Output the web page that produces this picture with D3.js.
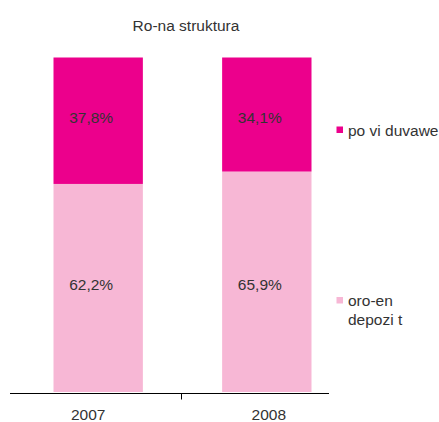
<!DOCTYPE html>
<html>
<head>
<meta charset="utf-8">
<script src="https://cdn.jsdelivr.net/npm/d3@7"></script>
<style>
  body { margin: 0; background: #fff; }
  svg text { font-family: "Liberation Sans", Arial, sans-serif; fill: #333; }
</style>
</head>
<body>
<div id="chart"></div>
<script>
// data
const years = ["2007", "2008"];
const seriesKeys = ["depozit", "pozajmuvanje"];
const depozitValues = [62.2, 65.9];
const pozajmuvanjeValues = [37.8, 34.1];
const seriesLabels = {
  depozit: ["oro-en", "depozi t"],
  pozajmuvanje: ["po vi duvawe"]
};
const seriesColors = {
  depozit: "#f7b7d5",
  pozajmuvanje: "#ec008c"
};
const title = "Ro-na struktura";

const width = 439;
const height = 422;

const rows = years.map((y, i) => ({
  year: y,
  depozit: depozitValues[i],
  pozajmuvanje: pozajmuvanjeValues[i]
}));

const svg = d3.select("#chart")
  .append("svg")
  .attr("width", width)
  .attr("height", height);

const x = d3.scaleBand()
  .domain(years)
  .range([53.5, 311.5])
  .paddingInner(0.47)
  .paddingOuter(0);

const y = d3.scaleLinear()
  .domain([0, 100])
  .range([392, 57.5]);

const stacked = d3.stack().keys(seriesKeys)(rows);

const layer = svg.selectAll("g.layer")
  .data(stacked)
  .enter()
  .append("g")
  .attr("class", "layer")
  .attr("fill", d => seriesColors[d.key]);

layer.selectAll("rect")
  .data(d => d)
  .enter()
  .append("rect")
  .attr("x", d => x(d.data.year))
  .attr("y", d => y(d[1]))
  .attr("width", x.bandwidth())
  .attr("height", d => y(d[0]) - y(d[1]));

// value labels: one row per series (mean of segment middles), a bit left of bar centre
layer.selectAll("text")
  .data(d => {
    const rowY = d3.mean(d, p => (y(p[0]) + y(p[1])) / 2);
    return d.map(p => ({ p, key: d.key, rowY }));
  })
  .enter()
  .append("text")
  .attr("x", d => x(d.p.data.year) + x.bandwidth() / 2 - 7)
  .attr("y", d => d.rowY)
  .attr("dy", "0.35em")
  .attr("text-anchor", "middle")
  .style("font-size", "15.5px")
  .text(d => d3.format(".1f")(d.p.data[d.key]).replace(".", ",") + "%");

// category axis
const axis = svg.append("g");
axis.append("line")
  .attr("x1", 10).attr("x2", 329)
  .attr("y1", 393.5).attr("y2", 393.5)
  .attr("stroke", "#000").attr("stroke-width", 1);

const boundary = (x(years[0]) + x.bandwidth() + x(years[1])) / 2 - 1;
axis.append("line")
  .attr("x1", boundary).attr("x2", boundary)
  .attr("y1", 393.5).attr("y2", 399.5)
  .attr("stroke", "#000").attr("stroke-width", 1);

axis.selectAll("text.year")
  .data(years)
  .enter()
  .append("text")
  .attr("class", "year")
  .attr("x", d => x(d) + x.bandwidth() / 2 + (d === "2007" ? -10 : 2))
  .attr("y", 420)
  .attr("text-anchor", "middle")
  .style("font-size", "15.5px")
  .text(d => d);

// title
svg.append("text")
  .attr("x", 186)
  .attr("y", 30.5)
  .attr("text-anchor", "middle")
  .style("font-size", "15.5px")
  .text(title);

// legend
const legendPos = { pozajmuvanje: 133, depozit: 303.5 };
const legend = svg.selectAll("g.legend")
  .data(seriesKeys)
  .enter()
  .append("g")
  .attr("class", "legend")
  .attr("transform", d => `translate(336.5,${legendPos[d]})`);

legend.append("rect")
  .attr("x", 0).attr("y", -6.5)
  .attr("width", 6.5).attr("height", 6.5)
  .attr("fill", d => seriesColors[d]);

legend.append("text")
  .attr("x", 11.5)
  .attr("y", 2.5)
  .style("font-size", "15.5px")
  .each(function (d) {
    d3.select(this).selectAll("tspan")
      .data(seriesLabels[d])
      .enter()
      .append("tspan")
      .attr("x", 11.5)
      .attr("dy", (_, i) => i === 0 ? 0 : 19)
      .text(t => t);
  });
</script>
</body>
</html>
